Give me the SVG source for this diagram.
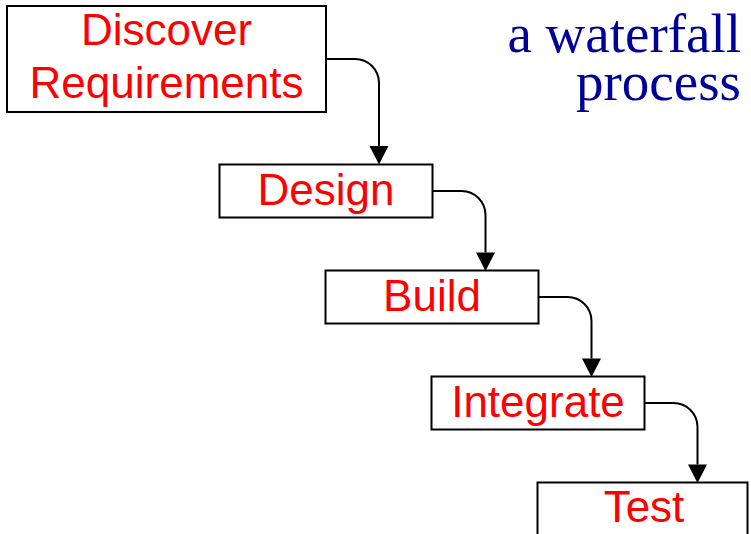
<svg xmlns="http://www.w3.org/2000/svg" width="751" height="534" viewBox="0 0 751 534">
  <style>
    .box { fill: #ffffff; stroke: #000000; stroke-width: 2; }
    .label { font-family: "Liberation Sans", Arial, sans-serif; font-size: 44px; fill: #ff0000; text-anchor: middle; }
    .title { font-family: "Liberation Serif", "Times New Roman", serif; font-size: 55px; fill: #000099; text-anchor: end; }
    .flow { fill: none; stroke: #000000; stroke-width: 2; marker-end: url(#arrow); }
  </style>
  <defs>
    <marker id="arrow" markerUnits="userSpaceOnUse" markerWidth="20" markerHeight="22" refX="0" refY="10" orient="auto" overflow="visible">
      <path d="M0,0.5 L18.5,10 L0,19.5 z" fill="#000000"/>
    </marker>
  </defs>

  <rect width="751" height="534" fill="#ffffff"/>

  <!-- heading -->
  <text class="title" x="741" y="52">a waterfall</text>
  <text class="title" x="741" y="100">process</text>

  <!-- connectors: right edge of each step, rounded bend, down into the next step -->
  <g id="connectors">
    <path class="flow" d="M326,59 H355 A24,24 0 0 1 379,83 V146"/>
    <path class="flow" d="M432.5,191 H461.5 A24,24 0 0 1 485.5,215 V252.5"/>
    <path class="flow" d="M538.5,297 H567.5 A24,24 0 0 1 591.5,321 V358.5"/>
    <path class="flow" d="M644.5,403 H673.5 A24,24 0 0 1 697.5,427 V464.5"/>
  </g>

  <g id="discover">
    <rect class="box" x="7" y="6" width="319" height="106"/>
    <text class="label" x="166.5" y="45">Discover</text>
    <text class="label" x="166.5" y="98">Requirements</text>
  </g>

  <g id="design">
    <rect class="box" x="219.5" y="164.5" width="213" height="53"/>
    <text class="label" x="326" y="205">Design</text>
  </g>

  <g id="build">
    <rect class="box" x="325.5" y="270.5" width="213" height="53"/>
    <text class="label" x="432" y="311">Build</text>
  </g>

  <g id="integrate">
    <rect class="box" x="431.5" y="376.5" width="213" height="53"/>
    <text class="label" x="538" y="417">Integrate</text>
  </g>

  <g id="test">
    <rect class="box" x="537.5" y="482.5" width="210" height="60"/>
    <text class="label" x="644" y="522">Test</text>
  </g>
</svg>
